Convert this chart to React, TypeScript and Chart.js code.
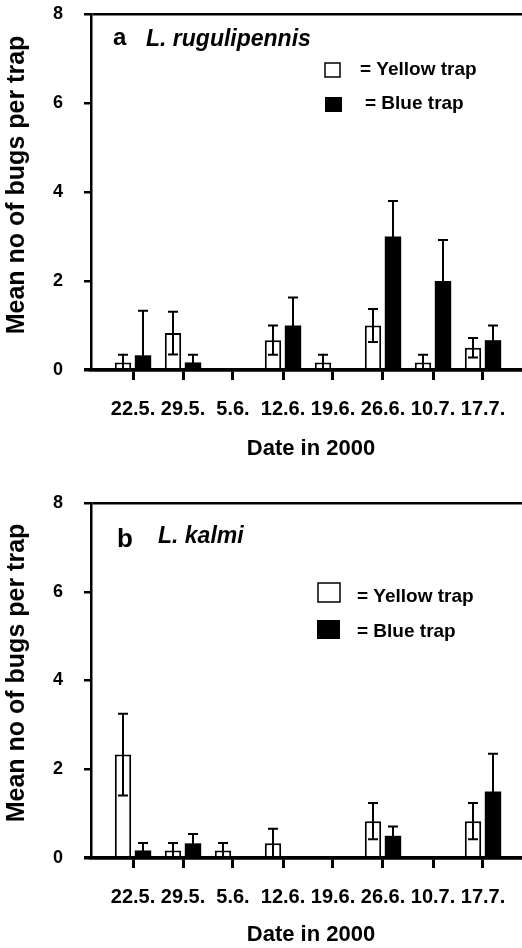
import React, { useEffect, useRef } from 'react';
import { Chart, registerables } from 'chart.js';
Chart.register(...registerables);

const DATES = ['22.5.', '29.5.', '5.6.', '12.6.', '19.6.', '26.6.', '10.7.', '17.7.'];
const Y_MIN = 0;
const Y_MAX = 8;
const Y_STEP = 2;

const A_YELLOW = [0.17, 0.83, 0, 0.67, 0.17, 1.0, 0.17, 0.5];
const A_YELLOW_ERR = [0.17, 0.48, 0, 0.33, 0.17, 0.37, 0.17, 0.22];
const A_BLUE = [0.33, 0.17, 0, 1.0, 0, 3.0, 2.0, 0.67];
const A_BLUE_ERR = [1.0, 0.17, 0, 0.63, 0, 0.8, 0.92, 0.33];

const B_YELLOW = [2.33, 0.17, 0.17, 0.33, 0, 0.83, 0, 0.83];
const B_YELLOW_ERR = [0.92, 0.17, 0.17, 0.33, 0, 0.41, 0, 0.41];
const B_BLUE = [0.17, 0.33, 0, 0, 0, 0.5, 0, 1.5];
const B_BLUE_ERR = [0.17, 0.21, 0, 0, 0, 0.21, 0, 0.85];

const Y_TITLE = 'Mean no of bugs per trap';
const X_TITLE = 'Date in 2000';
const LEGEND_YELLOW = '= Yellow trap';
const LEGEND_BLUE = '= Blue trap';

const FONT = "'Liberation Sans', Arial, Helvetica, sans-serif";

type PanelCfg = {
  top: number;
  height: number;
  padTop: number;
  xHeight: number;
  letter: string;
  species: string;
  yellow: number[];
  yellowErr: number[];
  blue: number[];
  blueErr: number[];
  letterPos: [number, number, number];
  speciesPos: [number, number, number];
  openBox: [number, number, number, number];
  blackBox: [number, number, number, number];
  text1: [number, number];
  text2: [number, number];
  yTitle: [number, number];
  xTitle: [number, number];
};

const PANELS: PanelCfg[] = [
  {
    top: 0,
    height: 474,
    padTop: 14,
    xHeight: 104,
    letter: 'a',
    species: 'L. rugulipennis',
    yellow: A_YELLOW,
    yellowErr: A_YELLOW_ERR,
    blue: A_BLUE,
    blueErr: A_BLUE_ERR,
    letterPos: [113, 45, 24],
    speciesPos: [146, 46, 23],
    openBox: [325, 63, 15, 14],
    blackBox: [325, 97, 17, 15],
    text1: [360, 70],
    text2: [365, 104],
    yTitle: [17, 185],
    xTitle: [311, 449],
  },
  {
    top: 474,
    height: 474,
    padTop: 29,
    xHeight: 90,
    letter: 'b',
    species: 'L. kalmi',
    yellow: B_YELLOW,
    yellowErr: B_YELLOW_ERR,
    blue: B_BLUE,
    blueErr: B_BLUE_ERR,
    letterPos: [117, 73, 26],
    speciesPos: [158, 69, 23],
    openBox: [318, 109, 22, 19],
    blackBox: [317, 146, 23, 19],
    text1: [357, 123],
    text2: [357, 158],
    yTitle: [17, 199],
    xTitle: [311, 461],
  },
];

const errorBarPlugin = {
  id: 'errorBars',
  afterDatasetsDraw(chart: any) {
    const ctx = chart.ctx;
    const ys = chart.scales.y;
    chart.data.datasets.forEach((ds: any, di: number) => {
      const meta = chart.getDatasetMeta(di);
      const errs: number[] = ds.errors || [];
      meta.data.forEach((bar: any, i: number) => {
        const v = ds.data[i].y;
        const e = errs[i];
        if (!e) return;
        const x = bar.x;
        const yTop = ys.getPixelForValue(v + e);
        const yBot = ys.getPixelForValue(Math.max(0, v - e));
        ctx.save();
        ctx.strokeStyle = '#000';
        ctx.lineWidth = 2;
        ctx.beginPath();
        ctx.moveTo(x, yTop);
        ctx.lineTo(x, yBot);
        ctx.moveTo(x - 5, yTop);
        ctx.lineTo(x + 5, yTop);
        ctx.moveTo(x - 5, yBot);
        ctx.lineTo(x + 5, yBot);
        ctx.stroke();
        ctx.restore();
      });
    });
  },
};

function makeTextPlugin(cfg: PanelCfg) {
  return {
    id: 'panelTexts',
    afterDraw(chart: any) {
      const ctx = chart.ctx;
      ctx.save();
      ctx.fillStyle = '#000';
      // Y title
      ctx.save();
      ctx.translate(cfg.yTitle[0], cfg.yTitle[1]);
      ctx.rotate(-Math.PI / 2);
      ctx.font = `bold 25px ${FONT}`;
      ctx.textAlign = 'center';
      ctx.textBaseline = 'middle';
      ctx.fillText(Y_TITLE, 0, 0);
      ctx.restore();
      // X title
      ctx.font = `bold 22px ${FONT}`;
      ctx.textAlign = 'center';
      ctx.textBaseline = 'middle';
      ctx.fillText(X_TITLE, cfg.xTitle[0], cfg.xTitle[1]);
      // Panel letter & species
      ctx.textAlign = 'left';
      ctx.textBaseline = 'alphabetic';
      ctx.font = `bold ${cfg.letterPos[2]}px ${FONT}`;
      ctx.fillText(cfg.letter, cfg.letterPos[0], cfg.letterPos[1]);
      ctx.font = `italic bold ${cfg.speciesPos[2]}px ${FONT}`;
      ctx.fillText(cfg.species, cfg.speciesPos[0], cfg.speciesPos[1]);
      // Legend
      ctx.lineWidth = 1.5;
      ctx.strokeStyle = '#000';
      const ob = cfg.openBox;
      ctx.fillStyle = '#fff';
      ctx.fillRect(ob[0], ob[1], ob[2], ob[3]);
      ctx.strokeRect(ob[0], ob[1], ob[2], ob[3]);
      ctx.fillStyle = '#000';
      const bb = cfg.blackBox;
      ctx.fillRect(bb[0], bb[1], bb[2], bb[3]);
      ctx.font = `bold 19px ${FONT}`;
      ctx.textBaseline = 'middle';
      ctx.fillText(LEGEND_YELLOW, cfg.text1[0], cfg.text1[1]);
      ctx.fillText(LEGEND_BLUE, cfg.text2[0], cfg.text2[1]);
      ctx.restore();
    },
  };
}

function Panel({ cfg }: { cfg: PanelCfg }) {
  const ref = useRef<HTMLCanvasElement>(null);
  useEffect(() => {
    const canvas = ref.current as HTMLCanvasElement;
    const chart = new Chart(canvas, {
      type: 'bar',
      data: {
        datasets: [
          {
            label: 'Yellow trap',
            data: cfg.yellow.map((v, i) => ({ x: i, y: v })),
            errors: cfg.yellowErr,
            backgroundColor: '#ffffff',
            borderColor: '#000000',
            borderWidth: 2,
            borderSkipped: 'start',
            barPercentage: 0.82,
            categoryPercentage: 0.8,
          } as any,
          {
            label: 'Blue trap',
            data: cfg.blue.map((v, i) => ({ x: i, y: v })),
            errors: cfg.blueErr,
            backgroundColor: '#000000',
            borderWidth: 0,
            barPercentage: 0.82,
            categoryPercentage: 0.8,
          } as any,
        ],
      },
      options: {
        animation: false,
        responsive: false,
        devicePixelRatio: 1,
        layout: { padding: { top: cfg.padTop, left: 0, right: 0, bottom: 0 } },
        plugins: {
          legend: { display: false },
          tooltip: { enabled: false },
        },
        scales: {
          x: {
            type: 'linear',
            min: -0.84,
            max: 7.78,
            offset: false,
            afterBuildTicks: (scale: any) => {
              scale.ticks = DATES.map((_, i) => ({ value: i }));
            },
            afterFit: (scale: any) => {
              scale.height = cfg.xHeight;
              scale.paddingLeft = 0;
              scale.paddingRight = 0;
            },
            ticks: {
              autoSkip: false,
              maxRotation: 0,
              minRotation: 0,
              padding: 17,
              color: '#000',
              font: { family: FONT, size: 20, weight: 'bold' },
              callback: (value: any) => DATES[Number(value)] ?? '',
            },
            grid: {
              display: true,
              offset: false,
              drawOnChartArea: false,
              drawTicks: true,
              tickLength: 10,
              color: '#000',
              lineWidth: 3,
              z: 1,
            },
            border: { display: true, color: '#000', width: 3.5, z: 1 },
          },
          y: {
            type: 'linear',
            min: Y_MIN,
            max: Y_MAX,
            afterFit: (scale: any) => {
              scale.width = 91;
              scale.paddingTop = 0;
              scale.paddingBottom = 0;
            },
            ticks: {
              stepSize: Y_STEP,
              padding: 21,
              color: '#000',
              font: { family: FONT, size: 18, weight: 'bold' },
            },
            grid: {
              display: true,
              drawTicks: true,
              tickLength: 7,
              color: (c: any) =>
                c.tick && (c.tick.value === Y_MIN || c.tick.value === Y_MAX) ? '#000' : 'rgba(0,0,0,0)',
              tickColor: '#000',
              lineWidth: (c: any) => (c.tick && c.tick.value === Y_MIN ? 3.5 : 2.5),
              z: 1,
            },
            border: { display: true, color: '#000', width: 2.5, z: 1 },
          },
        },
      } as any,
      plugins: [errorBarPlugin, makeTextPlugin(cfg)],
    });
    return () => chart.destroy();
  }, [cfg]);
  return (
    <canvas
      ref={ref}
      width={522}
      height={cfg.height}
      style={{ position: 'absolute', left: 0, top: cfg.top, width: 522, height: cfg.height, display: 'block' }}
    />
  );
}

export default function App() {
  return (
    <div style={{ position: 'absolute', left: 0, top: 0, width: 522, height: 948, background: '#fff' }}>
      {PANELS.map((p) => (
        <Panel key={p.letter} cfg={p} />
      ))}
    </div>
  );
}
